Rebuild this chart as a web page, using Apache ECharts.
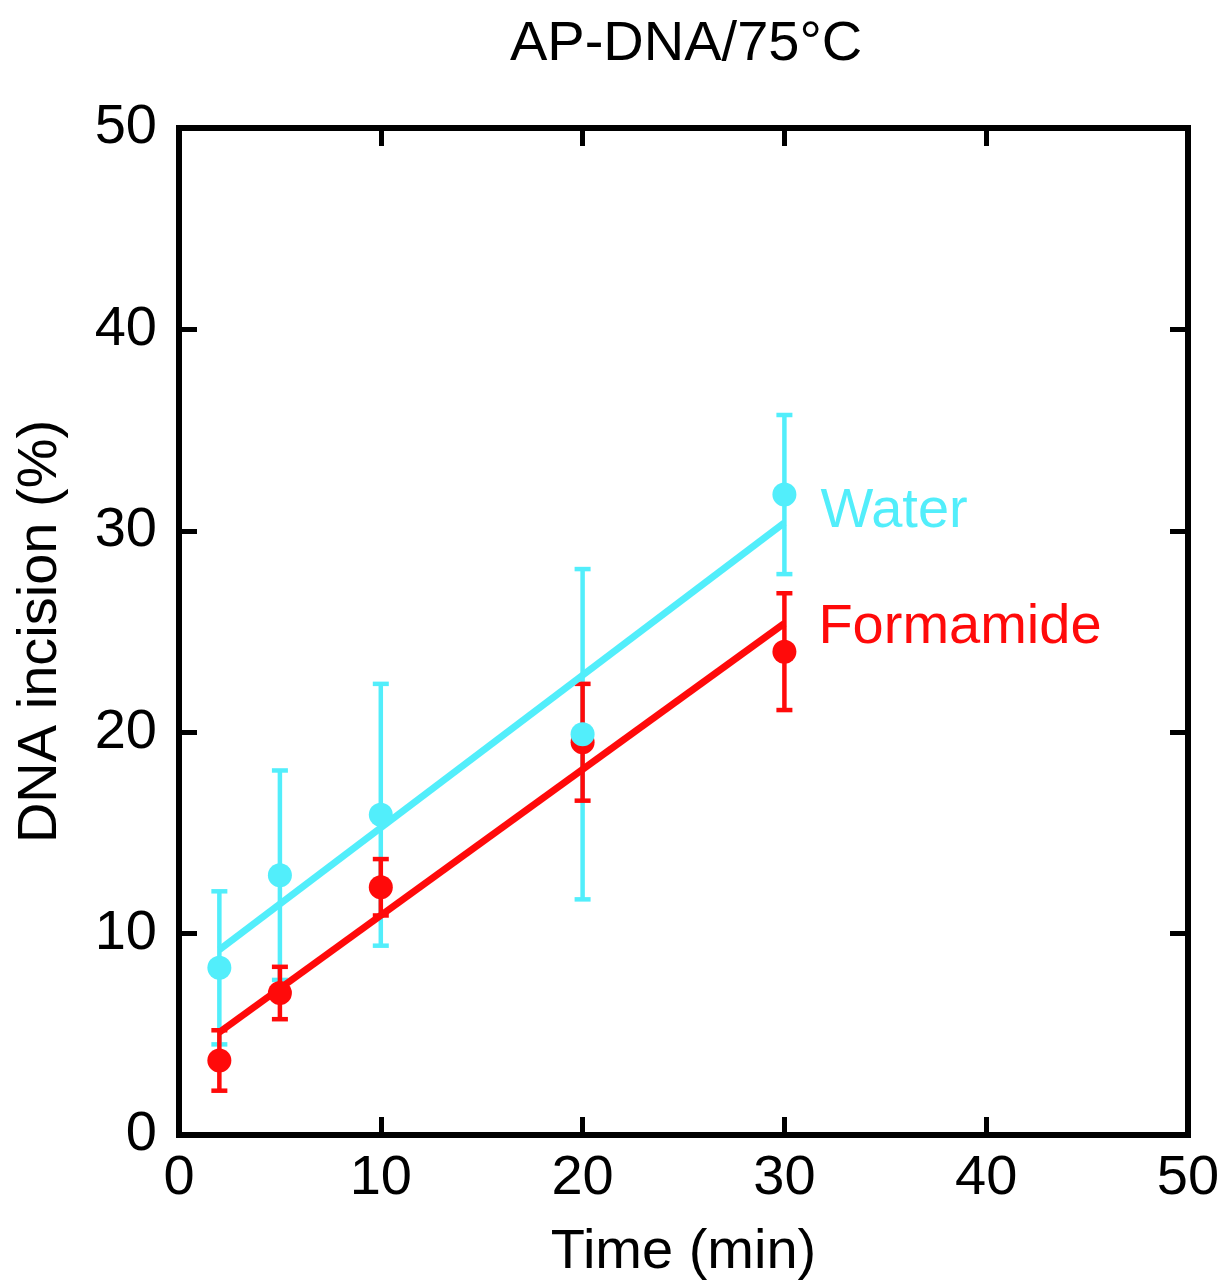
<!DOCTYPE html>
<html>
<head>
<meta charset="utf-8">
<script src="https://cdn.jsdelivr.net/npm/echarts@6/dist/echarts.min.js"></script>
<style>
  html, body { margin: 0; padding: 0; background: #fff; }
  #main { width: 1223px; height: 1288px; }
</style>
</head>
<body>
<div id="main"></div>
<script>
// 数据
var times = [2, 5, 10, 20, 30];
var water = [8.3, 12.9, 15.9, 19.9, 31.8];
var waterErr = [3.8, 5.2, 6.5, 8.2, 3.95];
var formamide = [3.7, 7.05, 12.3, 19.5, 24.0];
var formamideErr = [1.5, 1.3, 1.4, 2.9, 2.9];
// 拟合直线端点
var fitX = [2, 30];
var waterFit = [9.2, 30.4];
var formamideFit = [5.1, 25.4];

var cyan = '#52EEFB';
var red = '#FF0A0A';
var font = 'Liberation Sans, Arial, sans-serif';

function pairs(xs, ys) {
    return xs.map(function (x, i) { return [x, ys[i]]; });
}
function errData(xs, ys, es) {
    return xs.map(function (x, i) { return [x, ys[i] - es[i], ys[i] + es[i]]; });
}
function errBar(color) {
    return function (params, api) {
        var lo = api.coord([api.value(0), api.value(1)]);
        var hi = api.coord([api.value(0), api.value(2)]);
        var w = 8;
        var st = { stroke: color, lineWidth: 4.5 };
        return {
            type: 'group',
            children: [
                { type: 'line', shape: { x1: lo[0], y1: lo[1], x2: hi[0], y2: hi[1] }, style: st },
                { type: 'line', shape: { x1: lo[0] - w, y1: lo[1], x2: lo[0] + w, y2: lo[1] }, style: st },
                { type: 'line', shape: { x1: hi[0] - w, y1: hi[1], x2: hi[0] + w, y2: hi[1] }, style: st }
            ]
        };
    };
}

var chart = echarts.init(document.getElementById('main'));

function axis(pos, extra) {
    var a = {
        type: 'value',
        position: pos,
        min: 0,
        max: 50,
        interval: 10,
        axisLine: { show: true, onZero: false, lineStyle: { color: '#000', width: 6, cap: 'square' } },
        axisTick: { show: true, inside: true, length: 18, lineStyle: { color: '#000', width: 5 } },
        axisLabel: { show: false },
        splitLine: { show: false }
    };
    return Object.assign(a, extra || {});
}

option = {
    animation: false,
    title: {
        text: 'AP-DNA/75°C',
        left: 505,
        top: 12,
        textStyle: { fontFamily: font, fontSize: 56, fontWeight: 'normal', color: '#000' }
    },
    grid: { left: 179, right: 35, top: 128, bottom: 153 },
    xAxis: [
        axis('bottom', {
            name: 'Time (min)',
            nameLocation: 'middle',
            nameGap: 90,
            nameTextStyle: { fontFamily: font, fontSize: 56, color: '#000' },
            axisLabel: { show: true, fontFamily: font, fontSize: 56, color: '#000', margin: 16 }
        }),
        axis('top')
    ],
    yAxis: [
        axis('left', {
            name: 'DNA incision (%)',
            nameLocation: 'middle',
            nameGap: 110,
            nameTextStyle: { fontFamily: font, fontSize: 56, color: '#000' },
            axisLabel: { show: true, fontFamily: font, fontSize: 56, color: '#000', margin: 22 }
        }),
        axis('right')
    ],
    series: [
        {
            type: 'custom',
            renderItem: errBar(cyan),
            data: errData(times, water, waterErr),
            z: 2
        },
        {
            type: 'custom',
            renderItem: errBar(red),
            data: errData(times, formamide, formamideErr),
            z: 2
        },
        {
            type: 'line',
            data: pairs(fitX, waterFit),
            symbol: 'none',
            lineStyle: { color: cyan, width: 7 },
            endLabel: {
                show: true,
                formatter: 'Water',
                color: cyan,
                fontFamily: font,
                fontSize: 56,
                offset: [28, -11]
            },
            z: 3
        },
        {
            type: 'line',
            data: pairs(fitX, formamideFit),
            symbol: 'none',
            lineStyle: { color: red, width: 7 },
            endLabel: {
                show: true,
                formatter: 'Formamide',
                color: red,
                fontFamily: font,
                fontSize: 56,
                offset: [26, 4]
            },
            z: 3
        },
        {
            type: 'scatter',
            data: pairs(times, formamide),
            symbol: 'circle',
            symbolSize: 24,
            itemStyle: { color: red, opacity: 1 },
            z: 4
        },
        {
            type: 'scatter',
            data: pairs(times, water),
            symbol: 'circle',
            symbolSize: 24,
            itemStyle: { color: cyan, opacity: 1 },
            z: 5
        }
    ]
};
chart.setOption(option);
</script>
</body>
</html>
